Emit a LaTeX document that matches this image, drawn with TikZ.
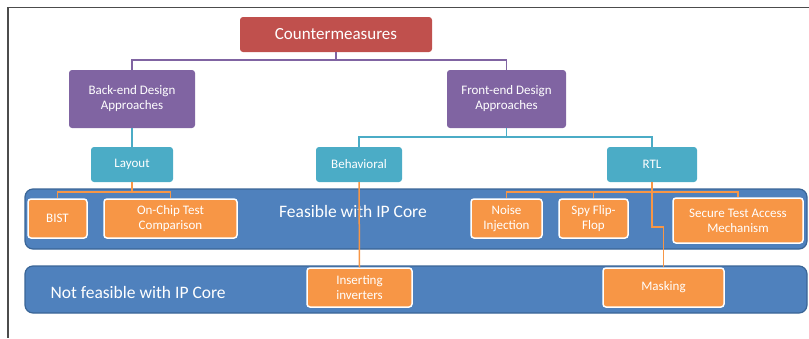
\documentclass[tikz,border=0pt]{standalone}
\usepackage{fontspec}
\setmainfont{Carlito}
\usepackage{tikz}
\usetikzlibrary{positioning}
\definecolor{cmred}{HTML}{C0504D}
\definecolor{apurple}{HTML}{8064A2}
\definecolor{acyan}{HTML}{4BACC6}
\definecolor{bandblue}{HTML}{4F81BD}
\definecolor{bandedge}{HTML}{3A6596}
\definecolor{aorange}{HTML}{F79646}
\tikzset{% boxes of the tree
        box/.style={rounded corners=3pt, text=white, align=center, inner sep=0pt,
                    font=\fontsize{13}{15}\selectfont},
        topbox/.style={box, fill=cmred, font=\fontsize{17}{20}\selectfont},
        designbox/.style={box, fill=apurple},
        levelbox/.style={box, fill=acyan},
        leafbox/.style={box, fill=aorange, draw=white, line width=1.5pt},
        band/.style={rounded corners=8pt, fill=bandblue, draw=bandedge, line width=1.2pt},
        bandtext/.style={text=white, font=\fontsize{17.5}{20}\selectfont},
        link/.style={line width=1.5pt}
        }

\begin{document}
\begin{tikzpicture}[x=1pt,y=-1pt]
\useasboundingbox (0,0) rectangle (809,338);
\draw[black!70, line width=1.5pt] (809,7.5) -- (8,7.5) -- (8,338);

\node[topbox, minimum width=192, minimum height=35] (cm) at (336,34.5) {Countermeasures};
\node[designbox, minimum width=126, minimum height=58] (backend) at (132,99) {Back-end Design\\Approaches};
\node[designbox, minimum width=119, minimum height=58] (frontend) at (506.5,99) {Front-end Design\\Approaches};
\node[levelbox, minimum width=82, minimum height=35] (layout) at (132,164.5) {Layout};
\node[levelbox, minimum width=86, minimum height=35] (behav) at (359,164.5) {Behavioral};
\node[levelbox, minimum width=90, minimum height=35] (rtl) at (652,164.5) {RTL};

% the two bands
\node[band, minimum width=782, minimum height=60] (feasible) at (416,219) {};
\node[band, minimum width=782, minimum height=47] (notfeasible) at (416,289.5) {};
\node[bandtext] (feasibletext) at (353,211) {Feasible with IP Core};
\node[bandtext, anchor=west] (notfeasibletext) at (47,292) {Not feasible with IP Core};

\node[leafbox, minimum width=59, minimum height=39] (bist) at (57.5,218.5) {BIST};
\node[leafbox, minimum width=133, minimum height=39] (onchip) at (170.5,218.5) {On-Chip Test\\Comparison};
\node[leafbox, minimum width=71, minimum height=39] (noise) at (506.5,218.5) {Noise\\Injection};
\node[leafbox, minimum width=69, minimum height=39] (spy) at (593.5,218.5) {Spy Flip-\\Flop};
\node[leafbox, minimum width=130, minimum height=45] (secure) at (738,220.5) {Secure Test Access\\Mechanism};
\node[leafbox, minimum width=105, minimum height=39] (inverters) at (359.5,287.5) {Inserting\\inverters};
\node[leafbox, minimum width=121, minimum height=39] (masking) at (663.5,287.5) {Masking};

\draw[link, apurple] (cm.south) -- ++(0,8) -| (backend.north);
\draw[link, apurple] (cm.south) -- ++(0,8) -| (frontend.north);
\draw[link, acyan] (backend.south) -- (layout.north);
\draw[link, acyan] (frontend.south) -- ++(0,9) -| (behav.north);
\draw[link, acyan] (frontend.south) -- ++(0,9) -| (rtl.north);

\draw[link, aorange] (layout.south) -- ++(0,10) -| (bist.north);
\draw[link, aorange] (layout.south) -- ++(0,10) -| (onchip.north);
\draw[link, aorange] (rtl.south) -- ++(0,10) -| (noise.north);
\draw[link, aorange] (rtl.south) -- ++(0,10) -| (spy.north);
\draw[link, aorange] (rtl.south) -- ++(0,10) -| (secure.north);
\draw[link, aorange] (rtl.south) -- ++(0,45) -| (masking.north);
\draw[link, aorange] (behav.south) -- (inverters.north);
\end{tikzpicture}
\end{document}
